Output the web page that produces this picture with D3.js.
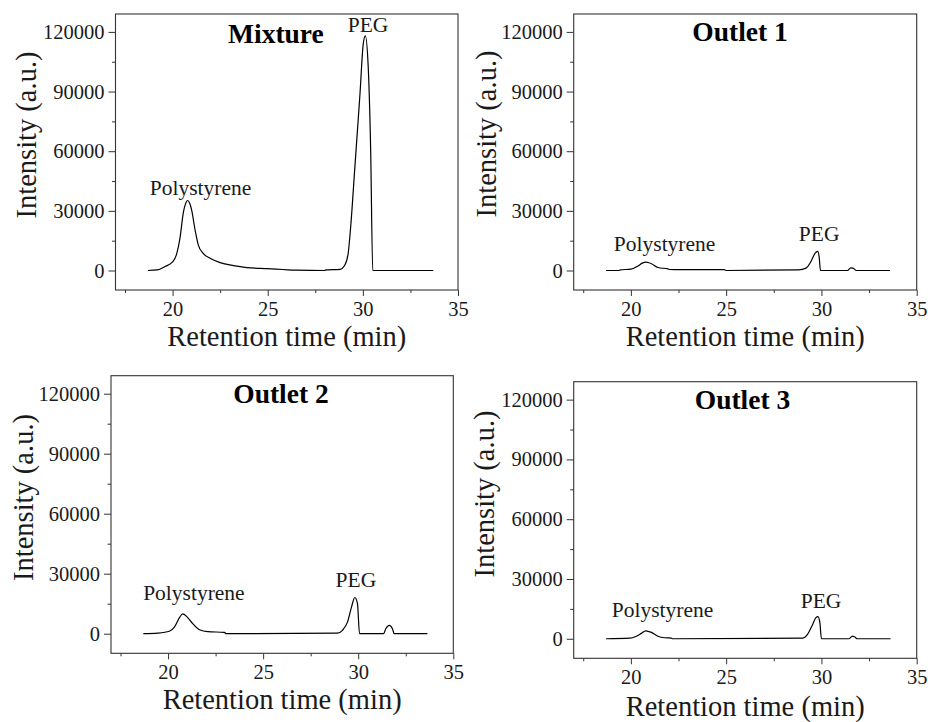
<!DOCTYPE html>
<html>
<head>
<meta charset="utf-8">
<script src="https://cdn.jsdelivr.net/npm/d3@7"></script>
<style>
  html, body { margin: 0; padding: 0; background: #fff; }
  svg { display: block; font-family: "Liberation Serif", "Times New Roman", serif; }
</style>
</head>
<body>
<svg id="chart" width="930" height="722"></svg>
<script>
// ---------- data ----------
const panelTitles = ["Mixture", "Outlet 1", "Outlet 2", "Outlet 3"];
const xTickValues = [20, 25, 30, 35];
const xMinorTicks = [17.5, 22.5, 27.5, 32.5];
const yTickValues = [0, 30000, 60000, 90000, 120000];
const yMinorTicks = [15000, 45000, 75000, 105000];
const peakNames = ["Polystyrene", "PEG"];

const mixTime = [18.7, 19.2, 19.6, 20.0, 20.2, 20.4, 20.56, 20.68, 20.79, 20.9, 21.0, 21.18, 21.35, 21.6, 21.97, 22.5, 23.2, 23.9, 24.95, 25.8, 26.5, 28.0, 28.05, 28.8, 29.06, 29.23, 29.36, 29.58, 29.85, 30.02, 30.13, 30.28, 30.41, 30.52, 31.5, 33.7];
const mixValue = [0, 300, 2000, 4300, 7900, 17000, 28900, 33500, 35200, 33800, 30500, 20500, 12900, 8700, 6200, 4000, 2500, 1500, 900, 500, 150, 0, 300, 600, 2900, 8700, 22000, 52000, 89000, 114000, 118000, 102700, 60700, 0, 0, 0];

const out1Time = [18.7, 19.35, 19.45, 20.0, 20.38, 20.6, 20.78, 20.95, 21.08, 21.42, 21.95, 22.05, 24.9, 25.0, 28.8, 29.19, 29.45, 29.67, 29.8, 29.88, 29.95, 31.37, 31.54, 31.66, 31.84, 33.6];
const out1Value = [0, 0, 300, 700, 2300, 3700, 4200, 3900, 3400, 1500, 800, 500, 400, 0, 300, 1200, 4500, 8700, 9600, 7000, 0, 0, 1300, 1200, 0, 0];

const out2Time = [18.7, 19.46, 20.07, 20.34, 20.6, 20.77, 21.0, 21.3, 21.65, 22.09, 22.96, 23.05, 28.9, 29.17, 29.44, 29.65, 29.82, 29.96, 30.07, 31.33, 31.45, 31.63, 31.8, 31.89, 33.64];
const out2Value = [0, 300, 1200, 3400, 8000, 9900, 8400, 5000, 2000, 1000, 700, 0, 300, 1700, 5900, 13400, 18100, 15100, 0, 0, 2500, 4200, 2500, 0, 0];

const out3Time = [18.7, 19.94, 20.29, 20.55, 20.78, 21.08, 21.42, 21.77, 22.12, 22.2, 29.0, 29.27, 29.54, 29.71, 29.82, 29.92, 30.0, 31.45, 31.63, 31.73, 31.89, 33.63];
const out3Value = [0, 300, 1300, 2700, 4000, 3200, 1300, 500, 300, 0, 300, 2200, 7200, 10600, 11100, 8000, 0, 0, 1300, 1000, 0, 0];

// ---------- layout ----------
const xDomain = [17, 35];
const yDomain = [-9800, 129000];
const FONT = '"Liberation Serif", "Times New Roman", serif';

const panels = [
  { title: panelTitles[0], time: mixTime, value: mixValue,
    box: { l: 115.5, t: 14, r: 458, b: 290 },
    titleAt: [25.43, 114600], labelAt: [[21.47, 38100], [30.27, 120100]],
    yTitle: { x: 36, y: 135 }, xTitleDy: 55.5 },
  { title: panelTitles[1], time: out1Time, value: out1Value,
    box: { l: 573.7, t: 14, r: 916.7, b: 290 },
    titleAt: [25.73, 115600], labelAt: [[21.77, 9600], [29.88, 14600]],
    yTitle: { x: 496, y: 134 }, xTitleDy: 55.5 },
  { title: panelTitles[2], time: out2Time, value: out2Value,
    box: { l: 111, t: 375.7, r: 453.3, b: 653.3 },
    titleAt: [25.94, 115300], labelAt: [[21.36, 17100], [29.88, 23200]],
    yTitle: { x: 33, y: 497.5 }, xTitleDy: 56 },
  { title: panelTitles[3], time: out3Time, value: out3Value,
    box: { l: 573.7, t: 381.7, r: 916.7, b: 658.3 },
    titleAt: [25.86, 115200], labelAt: [[21.66, 10900], [29.98, 15300]],
    yTitle: { x: 494, y: 494 }, xTitleDy: 57.5 }
];

const ink = "#1a1a1a";
const svg = d3.select("#chart");

panels.forEach(p => {
  const { l, t, r, b } = p.box;
  const x = d3.scaleLinear().domain(xDomain).range([l, r]);
  const y = d3.scaleLinear().domain(yDomain).range([b, t]);
  const g = svg.append("g");

  // frame
  g.append("rect")
    .attr("x", l).attr("y", t).attr("width", r - l).attr("height", b - t)
    .attr("fill", "none").attr("stroke", "#333").attr("stroke-width", 1.1);

  const xa = g.append("g").attr("transform", `translate(0,${b})`)
    .call(d3.axisBottom(x).tickValues(xTickValues).tickSize(6).tickPadding(5)
      .tickFormat(d3.format("d")));
  const xm = g.append("g").attr("transform", `translate(0,${b})`)
    .call(d3.axisBottom(x).tickValues(xMinorTicks).tickSize(3).tickFormat(""));
  const ya = g.append("g").attr("transform", `translate(${l},0)`)
    .call(d3.axisLeft(y).tickValues(yTickValues).tickSize(7).tickPadding(4)
      .tickFormat(d3.format("d")));
  const ym = g.append("g").attr("transform", `translate(${l},0)`)
    .call(d3.axisLeft(y).tickValues(yMinorTicks).tickSize(3.5).tickFormat(""));

  [xa, xm, ya, ym].forEach(a => {
    a.attr("font-family", FONT);
    a.select(".domain").remove();
    a.selectAll("line").attr("stroke", "#333").attr("stroke-width", 1);
    a.selectAll("text").attr("fill", ink)
      .attr("font-family", FONT)
      .style("font-size", "20.5px");
  });

  // curve
  const line = d3.line()
    .x((d, i) => x(p.time[i]))
    .y((d, i) => y(p.value[i]))
    .curve(d3.curveMonotoneX);
  g.append("path")
    .attr("d", line(p.value))
    .attr("fill", "none").attr("stroke", "#000").attr("stroke-width", 1.2)
    .attr("stroke-linejoin", "round");

  // panel title
  g.append("text")
    .attr("x", x(p.titleAt[0])).attr("y", y(p.titleAt[1]))
    .attr("text-anchor", "middle").attr("font-family", FONT)
    .attr("font-weight", "bold").attr("font-size", 27.5).attr("fill", "#000")
    .text(p.title);

  // peak labels
  peakNames.forEach((name, i) => {
    g.append("text")
      .attr("x", x(p.labelAt[i][0])).attr("y", y(p.labelAt[i][1]))
      .attr("text-anchor", "middle").attr("font-family", FONT)
      .attr("font-size", 21.5).attr("fill", ink)
      .text(name);
  });

  // axis titles
  g.append("text")
    .attr("x", (l + r) / 2).attr("y", b + p.xTitleDy)
    .attr("text-anchor", "middle").attr("font-family", FONT)
    .attr("font-size", 28.5).attr("fill", ink)
    .text("Retention time (min)");

  g.append("text")
    .attr("transform", `translate(${p.yTitle.x},${p.yTitle.y}) rotate(-90)`)
    .attr("text-anchor", "middle").attr("font-family", FONT)
    .attr("font-size", 28.5).attr("fill", ink)
    .text("Intensity (a.u.)");
});
</script>
</body>
</html>
